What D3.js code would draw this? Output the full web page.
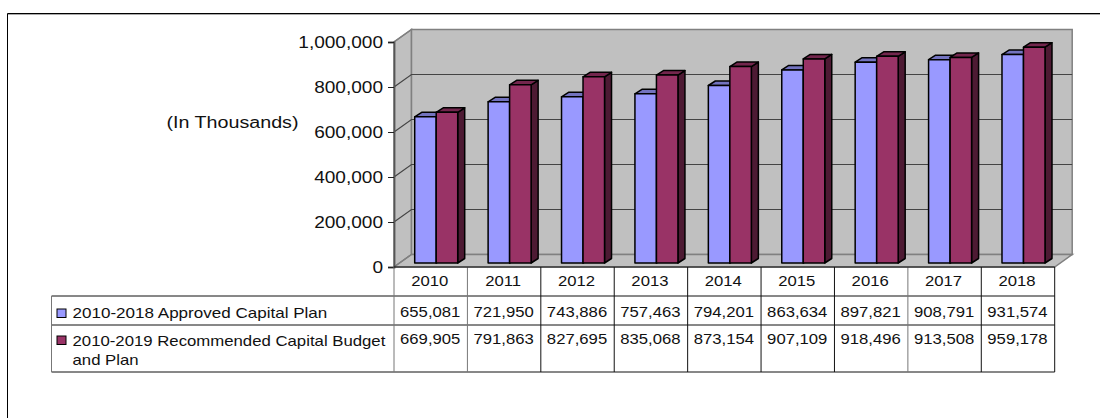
<!DOCTYPE html>
<html lang="en">
<head>
    <meta charset="UTF-8">
    <title>Capital Plan</title>
    <style>
        body { margin: 0; background: #fff; }
        svg { display: block; }
        text { font-family: "Liberation Sans", Arial, sans-serif; fill: #111; }
    </style>
    <script src="https://cdn.jsdelivr.net/npm/d3@7/dist/d3.min.js"></script>
</head>
<body>
    <svg width="1100" height="419"></svg>

    <script>
        // Data
        const years = ["2010", "2011", "2012", "2013", "2014", "2015", "2016", "2017", "2018"];
        const approved = [655081, 721950, 743886, 757463, 794201, 863634, 897821, 908791, 931574];
        const recommended = [669905, 791863, 827695, 835068, 873154, 907109, 918496, 913508, 959178];
        const yTicks = [0, 200000, 400000, 600000, 800000, 1000000];
        const seriesNames = ["approved", "recommended"];
        const seriesValues = [approved, recommended];
        const rowLabels = [["2010-2018 Approved Capital Plan"], ["2010-2019 Recommended Capital Budget", "and Plan"]];

        const colors = {
            approved: { front: "#9999ff", top: "#7373bf", side: "#4d4d80" },
            recommended: { front: "#993366", top: "#73264d", side: "#4d1a33" }
        };

        const svg = d3.select("svg");
        const fmt = d3.format(",");

        // Pseudo-3D layout
        const left = 394, right = 1054.7, floorY = 267;
        const wallDx = 17.5, wallDy = 12.5;
        const barShiftX = 5.5, barShiftY = 4, barDx = 7, barDy = 4.5;
        const topNudge = [1.2, 0];

        const x = d3.scaleBand().domain(years).range([left, right]);
        const xInner = d3.scaleBand().domain(seriesNames)
            .range([0, x.bandwidth()]).paddingInner(0).paddingOuter(0.707);
        const y = d3.scaleLinear().domain([0, 1000000]).range([floorY, 42]);

        // Stretch text horizontally, the picture is wider than the plain font
        function stretch(sel, factor) {
            sel.each(function() {
                const len = this.getComputedTextLength();
                d3.select(this).attr("textLength", len * factor).attr("lengthAdjust", "spacingAndGlyphs");
            });
        }

        const poly = pts => pts.map(p => p.join(",")).join(" ");

        // Outer frame
        svg.append("path").attr("d", "M8,14.5H1100").attr("fill", "none").attr("stroke", "#aaa").attr("stroke-width", 1);
        svg.append("path").attr("d", "M7.5,418V13.5H1100").attr("fill", "none").attr("stroke", "#000").attr("stroke-width", 1);

        // Walls and floor
        const walls = svg.append("g").attr("fill", "#c0c0c0").attr("stroke", "#808080").attr("stroke-width", 1.5);
        walls.append("polygon").attr("points", poly([[left, y(0)], [left + wallDx, y(0) - wallDy], [left + wallDx, y(1000000) - wallDy], [left, y(1000000)]]));
        walls.append("polygon").attr("points", poly([[left + wallDx, y(0) - wallDy], [right + wallDx, y(0) - wallDy], [right + wallDx, y(1000000) - wallDy], [left + wallDx, y(1000000) - wallDy]]));
        walls.append("polygon").attr("points", poly([[left, y(0)], [left + wallDx, y(0) - wallDy], [right + wallDx, y(0) - wallDy], [right, y(0)]]));

        // Gridlines on side and back wall
        svg.append("g").selectAll("path")
            .data(yTicks)
            .enter().append("path")
            .attr("d", d => `M${left},${y(d)}L${left + wallDx},${y(d) - wallDy}H${right + wallDx}`)
            .attr("fill", "none")
            .attr("stroke", (d, i) => (i === 0 || d === 1000000) ? "#808080" : "#444")
            .attr("stroke-width", 1.2);

        // Bars, far to near, left to right
        const bars = svg.append("g").selectAll("g")
            .data(years)
            .enter().append("g")
            .attr("transform", d => `translate(${x(d) + barShiftX},${-barShiftY})`);

        seriesNames.forEach((name, s) => {
            const b = xInner.bandwidth();
            const x0 = xInner(name);
            const top = i => y(seriesValues[s][i]) + topNudge[s];
            const seg = bars.append("g")
                .attr("stroke", "#000").attr("stroke-width", 1.5).attr("stroke-linejoin", "round");
            seg.append("polygon").attr("fill", colors[name].side)
                .attr("points", (d, i) => poly([[x0 + b, top(i)], [x0 + b + barDx, top(i) - barDy], [x0 + b + barDx, y(0) - barDy], [x0 + b, y(0)]]));
            seg.append("polygon").attr("fill", colors[name].top)
                .attr("points", (d, i) => poly([[x0, top(i)], [x0 + barDx, top(i) - barDy], [x0 + b + barDx, top(i) - barDy], [x0 + b, top(i)]]));
            seg.append("rect").attr("fill", colors[name].front)
                .attr("x", x0).attr("width", b)
                .attr("y", (d, i) => top(i))
                .attr("height", (d, i) => y(0) - top(i));
        });

        // Y axis
        const axis = svg.append("g")
            .attr("transform", `translate(${left},0)`)
            .call(d3.axisLeft(y).tickValues(yTicks).tickFormat(fmt).tickSize(6).tickPadding(5));
        axis.select(".domain").attr("stroke", "#555").attr("stroke-width", 1.8);
        axis.selectAll(".tick line").attr("stroke", "#222");
        axis.selectAll("text").attr("font-size", 16).style("font-family", "Liberation Sans").call(stretch, 1.19);

        svg.append("text").attr("x", 166.5).attr("y", 127.5).attr("font-size", 16)
            .text("(In Thousands)").call(stretch, 1.23);

        // Data table under the chart
        const rowY = [267, 296, 325, 372];
        const table = svg.append("g").attr("stroke", "#111").attr("stroke-width", 1);
        table.selectAll("line.h")
            .data(rowY.slice(1))
            .enter().append("line")
            .attr("x1", 51.5).attr("x2", right)
            .attr("y1", d => d).attr("y2", d => d);
        table.selectAll("line.v")
            .data(years.map(d => x(d)).concat([right]))
            .enter().append("line")
            .attr("x1", d => d).attr("x2", d => d)
            .attr("y1", rowY[0]).attr("y2", rowY[3])
            .attr("stroke", (d, i) => (i < 2 || i === 7) ? "#777" : "#111");
        table.append("line").attr("x1", 51.5).attr("x2", 51.5).attr("y1", rowY[1]).attr("y2", rowY[3]).attr("stroke", "#777");
        table.append("line").attr("x1", left).attr("x2", right).attr("y1", floorY).attr("y2", floorY);

        const tableFont = 14.5, tableStretch = 1.15, legendStretch = [1.175, 1.155];
        svg.append("g").selectAll("text")
            .data(years)
            .enter().append("text")
            .attr("x", d => x(d) + x.bandwidth() / 2 - 1)
            .attr("y", 285.5)
            .attr("text-anchor", "middle")
            .attr("font-size", tableFont)
            .text(d => d)
            .call(stretch, tableStretch);

        seriesValues.forEach((values, s) => {
            svg.append("g").selectAll("text")
                .data(values)
                .enter().append("text")
                .attr("x", (d, i) => x(years[i]) + x.bandwidth() / 2 - 0.5)
                .attr("y", [316.5, 344][s])
                .attr("text-anchor", "middle")
                .attr("font-size", tableFont)
                .text(d => fmt(d))
                .call(stretch, tableStretch);

            svg.append("rect")
                .attr("x", 57).attr("y", [309, 336][s])
                .attr("width", 9).attr("height", 8.5)
                .attr("fill", colors[seriesNames[s]].front)
                .attr("stroke", "#000");

            rowLabels[s].forEach((line, k) => {
                svg.append("text")
                    .attr("x", 72.5)
                    .attr("y", [317.5, 345.5][s] + k * 19.5)
                    .attr("font-size", tableFont)
                    .text(line)
                    .call(stretch, legendStretch[s]);
            });
        });
    </script>
</body>
</html>
